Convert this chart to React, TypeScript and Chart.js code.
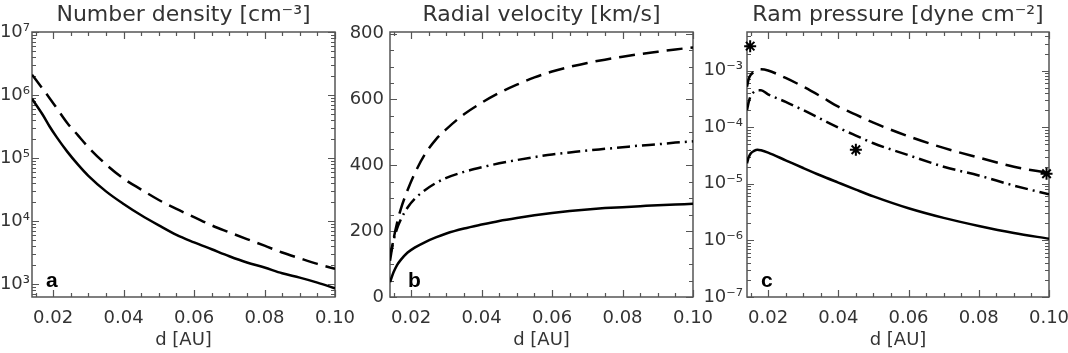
import React, { useEffect, useRef } from 'react';
import { Chart, registerables } from 'chart.js';

Chart.register(...registerables);

// ---------------- data ----------------
const xTickValues = [0.02, 0.04, 0.06, 0.08, 0.1];
const xTickLabels = ['0.02', '0.04', '0.06', '0.08', '0.10'];

const densityTickValues = [1e3, 1e4, 1e5, 1e6, 1e7];
const densityTickLabels = ['10³', '10⁴', '10⁵', '10⁶', '10⁷'];
const velocityTickValues = [0, 200, 400, 600, 800];
const velocityTickLabels = ['0', '200', '400', '600', '800'];
const pressureTickValues = [1e-7, 1e-6, 1e-5, 1e-4, 1e-3];
const pressureTickLabels = ['10⁻⁷', '10⁻⁶', '10⁻⁵', '10⁻⁴', '10⁻³'];

// panel a: number density [cm^-3]
const dDensity = [0.014, 0.017, 0.019, 0.021, 0.024, 0.027, 0.03, 0.035, 0.04, 0.045, 0.05, 0.055, 0.06, 0.065, 0.07, 0.075, 0.08, 0.085, 0.09, 0.095, 0.1];
const densitySolid = [8.7e5, 4.9e5, 3.16e5, 2.14e5, 1.26e5, 7.9e4, 5.2e4, 2.95e4, 1.86e4, 1.23e4, 8500, 6000, 4570, 3550, 2750, 2190, 1820, 1480, 1260, 1050, 850];
const densityDashed = [2.1e6, 1.26e6, 8.9e5, 6.2e5, 3.6e5, 2.3e5, 1.48e5, 7.9e4, 4.7e4, 3.15e4, 2.15e4, 1.55e4, 1.15e4, 8500, 6600, 5150, 4050, 3150, 2550, 2080, 1740];

// panel b: radial velocity [km/s]
const dVelocity = [0.014, 0.015, 0.016, 0.017, 0.019, 0.021, 0.024, 0.027, 0.03, 0.035, 0.04, 0.045, 0.05, 0.055, 0.06, 0.065, 0.07, 0.075, 0.08, 0.085, 0.09, 0.095, 0.1];
const velocitySolid = [45, 75, 97, 112, 135, 150, 167, 181, 193, 208, 220, 231, 240, 248, 255, 261, 266, 270, 273, 276, 279, 281, 283];
const velocityDashDot = [125, 172, 208, 234, 272, 298, 325, 346, 362, 380, 394, 406, 416, 425, 433, 439, 445, 450, 455, 460, 464, 469, 473];
const velocityDashed = [110, 175, 225, 265, 325, 375, 435, 478, 510, 555, 590, 620, 645, 667, 685, 699, 711, 721, 730, 738, 745, 752, 758];

// panel c: ram pressure [dyne cm^-2]
const dPressure = [0.014, 0.0145, 0.015, 0.016, 0.017, 0.018, 0.02, 0.025, 0.03, 0.035, 0.04, 0.045, 0.05, 0.06, 0.07, 0.08, 0.09, 0.1];
const pressureSolid = [2.3e-5, 2.95e-5, 3.4e-5, 3.8e-5, 4.0e-5, 3.9e-5, 3.55e-5, 2.6e-5, 1.9e-5, 1.4e-5, 1.05e-5, 7.9e-6, 6.0e-6, 3.7e-6, 2.5e-6, 1.8e-6, 1.35e-6, 1.07e-6];
const pressureDashDot = [2.0e-4, 2.8e-4, 3.5e-4, 4.2e-4, 4.5e-4, 4.5e-4, 3.8e-4, 2.8e-4, 2.0e-4, 1.4e-4, 9.8e-5, 7.1e-5, 5.2e-5, 3.2e-5, 2.0e-5, 1.4e-5, 9.3e-6, 6.5e-6];
const pressureDashed = [5.2e-4, 7.1e-4, 8.3e-4, 9.5e-4, 1.02e-3, 1.05e-3, 1.0e-3, 7.4e-4, 5.2e-4, 3.5e-4, 2.3e-4, 1.66e-4, 1.2e-4, 6.9e-5, 4.3e-5, 2.9e-5, 2.0e-5, 1.55e-5];
const starD = [0.0149, 0.045, 0.0993];
const starPressure = [2.7e-3, 4.0e-5, 1.5e-5];

// ---------------- styles ----------------
const TEXT_FONT = 'DejaVu Sans';
const TEXT_COLOR = '#333';
const AXIS_COLOR = '#555';
const DASHED = [16, 8];
const DASHDOT = [13, 5, 2, 5];

const pts = (xs: number[], ys: number[]) => xs.map((x, i) => ({ x, y: ys[i] }));

type Series = { xs: number[]; ys: number[]; dash?: number[] };
type PanelDef = {
  key: string;
  left: number;
  width: number;
  yAxisWidth: number;
  rightPad: number;
  yPad: number;
  title: string;
  letter: string;
  letterDx: number;
  logY: boolean;
  yMin: number;
  yMax: number;
  yTicks: number[];
  yLabels: string[];
  yMinorStep?: number;
  series: Series[];
  stars?: { xs: number[]; ys: number[] };
};

const PANELS: PanelDef[] = [
  {
    key: 'a', left: 0, width: 356, yAxisWidth: 32, rightPad: 21, yPad: 2,
    title: 'Number density [cm⁻³]', letter: 'a', letterDx: 14,
    logY: true, yMin: 620, yMax: 1e7,
    yTicks: densityTickValues, yLabels: densityTickLabels,
    series: [
      { xs: dDensity, ys: densitySolid },
      { xs: dDensity, ys: densityDashed, dash: DASHED },
    ],
  },
  {
    key: 'b', left: 340, width: 372, yAxisWidth: 50, rightPad: 19, yPad: 6,
    title: 'Radial velocity [km/s]', letter: 'b', letterDx: 18,
    logY: false, yMin: 0, yMax: 805,
    yTicks: velocityTickValues, yLabels: velocityTickLabels, yMinorStep: 50,
    series: [
      { xs: dVelocity, ys: velocitySolid },
      { xs: dVelocity, ys: velocityDashDot, dash: DASHDOT },
      { xs: dVelocity, ys: velocityDashed, dash: DASHED },
    ],
  },
  {
    key: 'c', left: 697, width: 371, yAxisWidth: 50, rightPad: 19, yPad: 4,
    title: 'Ram pressure [dyne cm⁻²]', letter: 'c', letterDx: 14,
    logY: true, yMin: 1e-7, yMax: 4.8e-3,
    yTicks: pressureTickValues, yLabels: pressureTickLabels,
    series: [
      { xs: dPressure, ys: pressureSolid },
      { xs: dPressure, ys: pressureDashDot, dash: DASHDOT },
      { xs: dPressure, ys: pressureDashed, dash: DASHED },
    ],
    stars: { xs: starD, ys: starPressure },
  },
];

function minorTicks(p: PanelDef): number[] {
  const out: number[] = [];
  if (p.logY) {
    const k0 = Math.floor(Math.log10(p.yMin));
    const k1 = Math.ceil(Math.log10(p.yMax));
    for (let k = k0; k <= k1; k++) {
      for (let m = 2; m <= 9; m++) {
        const v = m * Math.pow(10, k);
        if (v > p.yMin && v < p.yMax) out.push(v);
      }
    }
  } else if (p.yMinorStep) {
    for (let v = p.yMin; v <= p.yMax; v += p.yMinorStep) out.push(v);
  }
  return out;
}

function buildConfig(p: PanelDef): any {
  const font = { family: TEXT_FONT, size: 18 };
  const datasets: any[] = p.series.map((s) => ({
    data: pts(s.xs, s.ys),
    borderColor: '#000',
    borderWidth: 2.5,
    borderDash: s.dash || [],
    pointRadius: 0,
    fill: false,
    cubicInterpolationMode: 'monotone',
  }));
  if (p.stars) {
    datasets.push({
      data: pts(p.stars.xs, p.stars.ys),
      showLine: false,
      pointStyle: 'star',
      pointRadius: 6,
      borderColor: '#000',
      backgroundColor: '#000',
      pointBorderWidth: 2,
      clip: false,
    });
  }
  const xMinor: number[] = [];
  for (let i = 3; i <= 19; i++) xMinor.push(i * 0.005);
  const yMinor = minorTicks(p);

  const frame = {
    id: 'frame' + p.key,
    beforeDatasetsDraw(chart: any) {
      const { ctx, chartArea } = chart;
      const { left, right, top, bottom } = chartArea;
      const xs = chart.scales.x;
      const ys = chart.scales.y;
      ctx.save();
      ctx.strokeStyle = AXIS_COLOR;
      ctx.lineWidth = 1.5;
      ctx.strokeRect(left, top, right - left, bottom - top);
      ctx.lineWidth = 1.2;
      ctx.beginPath();
      const xt = (v: number, len: number) => {
        const px = Math.round(xs.getPixelForValue(v)) + 0.5;
        ctx.moveTo(px, bottom); ctx.lineTo(px, bottom - len);
        ctx.moveTo(px, top); ctx.lineTo(px, top + len);
      };
      const yt = (v: number, len: number) => {
        const py = Math.round(ys.getPixelForValue(v)) + 0.5;
        ctx.moveTo(left, py); ctx.lineTo(left + len, py);
        ctx.moveTo(right, py); ctx.lineTo(right - len, py);
      };
      xTickValues.forEach((v) => xt(v, 7));
      xMinor.forEach((v) => xt(v, 4));
      p.yTicks.forEach((v) => yt(v, 7));
      yMinor.forEach((v) => yt(v, 4));
      ctx.stroke();
      ctx.restore();
    },
    afterDraw(chart: any) {
      const { ctx, chartArea } = chart;
      ctx.save();
      ctx.fillStyle = TEXT_COLOR;
      ctx.font = `22px "${TEXT_FONT}"`;
      ctx.textAlign = 'center';
      ctx.textBaseline = 'alphabetic';
      ctx.fillText(p.title, (chartArea.left + chartArea.right) / 2, 21);
      ctx.fillStyle = '#000';
      ctx.font = 'bold 21px "Liberation Sans"';
      ctx.textAlign = 'left';
      ctx.fillText(p.letter, chartArea.left + p.letterDx, 287);
      ctx.restore();
    },
  };

  return {
    type: 'line',
    data: { datasets },
    plugins: [frame],
    options: {
      responsive: false,
      animation: false,
      events: [],
      parsing: true,
      layout: { padding: { top: 32, right: p.rightPad, left: 0, bottom: 0 } },
      plugins: {
        legend: { display: false },
        tooltip: { enabled: false },
        title: { display: false },
      },
      scales: {
        x: {
          type: 'linear',
          min: 0.014,
          max: 0.1,
          grid: { display: false, drawTicks: false },
          border: { display: false },
          afterBuildTicks: (s: any) => {
            s.ticks = xTickValues.map((v) => ({ value: v }));
          },
          afterFit: (s: any) => {
            s.height = 56;
            s.paddingLeft = 0;
            s.paddingRight = 0;
          },
          ticks: {
            autoSkip: false,
            maxRotation: 0,
            padding: 11,
            font,
            color: TEXT_COLOR,
            callback: (_v: any, i: number) => xTickLabels[i],
          },
          title: {
            display: true,
            text: 'd [AU]',
            font,
            color: TEXT_COLOR,
            padding: { top: 0, bottom: 2 },
          },
        },
        y: {
          type: p.logY ? 'logarithmic' : 'linear',
          position: 'left',
          min: p.yMin,
          max: p.yMax,
          grid: { display: false, drawTicks: false },
          border: { display: false },
          afterBuildTicks: (s: any) => {
            s.ticks = p.yTicks.map((v) => ({ value: v }));
          },
          afterFit: (s: any) => {
            s.width = p.yAxisWidth;
            s.paddingTop = 0;
            s.paddingBottom = 0;
          },
          ticks: {
            autoSkip: false,
            padding: p.yPad,
            font,
            color: TEXT_COLOR,
            callback: (_v: any, i: number) => p.yLabels[i],
          },
        },
      },
    },
  };
}

function Panel({ p }: { p: PanelDef }) {
  const ref = useRef<HTMLCanvasElement>(null);
  useEffect(() => {
    const chart = new Chart(ref.current as HTMLCanvasElement, buildConfig(p));
    return () => chart.destroy();
  }, [p]);
  return (
    <canvas
      ref={ref}
      width={p.width}
      height={353}
      style={{ position: 'absolute', left: p.left, top: 0, width: p.width, height: 353 }}
    />
  );
}

export default function App() {
  return (
    <div
      style={{
        position: 'absolute',
        left: 0,
        top: 0,
        width: 1068,
        height: 353,
        overflow: 'hidden',
        background: '#fff',
      }}
    >
      {PANELS.map((p) => (
        <Panel key={p.key} p={p} />
      ))}
    </div>
  );
}
